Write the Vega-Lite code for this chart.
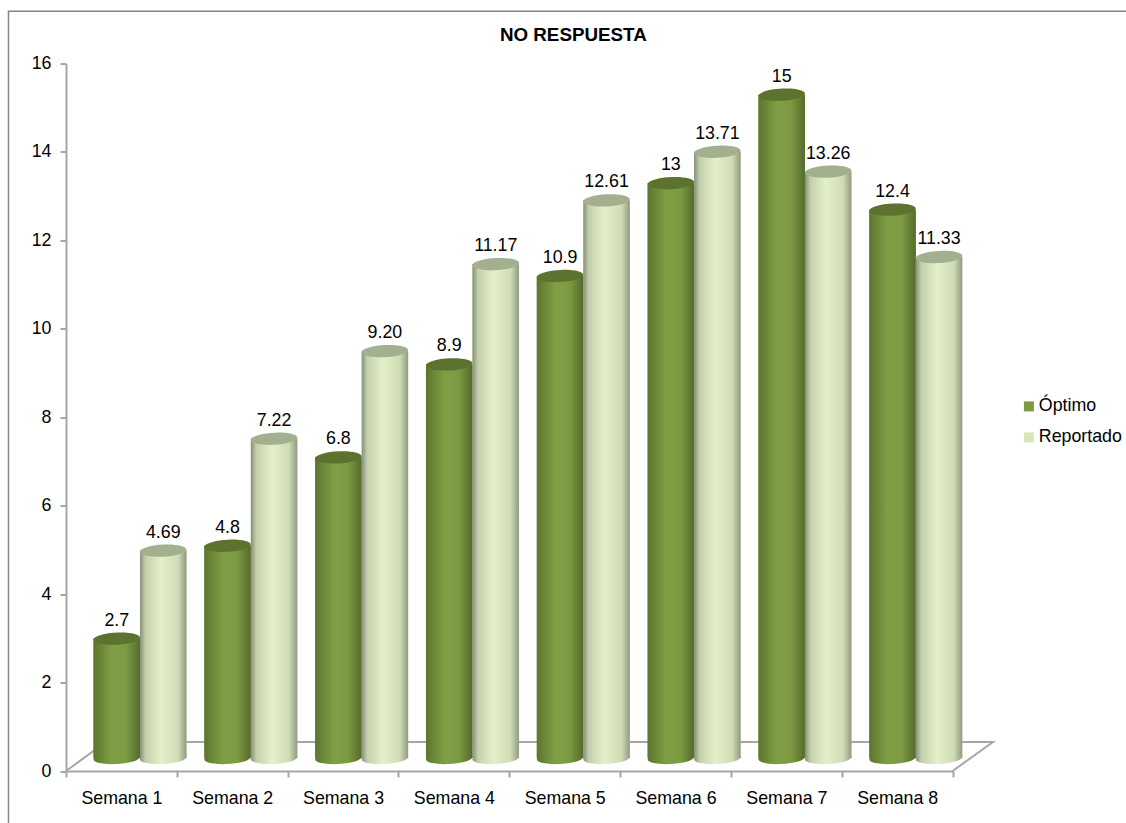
{
"$schema":"https://vega.github.io/schema/vega-lite/v6.json",
"width":886.6,"height":707.5,
"autosize":{"type":"none"},
"padding":{"left":66,"top":63.5,"right":173.4,"bottom":52},
"background":"white",
"config":{"view":{"stroke":null},"font":"Liberation Sans"},
"title":{"text":"NO RESPUESTA","font":"Liberation Sans","fontSize":18.8,"fontWeight":"bold","color":"#000000","anchor":"middle","dx":64,"offset":-36},
"datasets":{
"barras":[
{"semana":"Semana 1","serie":"Óptimo","valor":2.7},
{"semana":"Semana 2","serie":"Óptimo","valor":4.8},
{"semana":"Semana 3","serie":"Óptimo","valor":6.8},
{"semana":"Semana 4","serie":"Óptimo","valor":8.9},
{"semana":"Semana 5","serie":"Óptimo","valor":10.9},
{"semana":"Semana 6","serie":"Óptimo","valor":13},
{"semana":"Semana 7","serie":"Óptimo","valor":15},
{"semana":"Semana 8","serie":"Óptimo","valor":12.4},
{"semana":"Semana 1","serie":"Reportado","valor":4.69},
{"semana":"Semana 2","serie":"Reportado","valor":7.22},
{"semana":"Semana 3","serie":"Reportado","valor":9.2},
{"semana":"Semana 4","serie":"Reportado","valor":11.17},
{"semana":"Semana 5","serie":"Reportado","valor":12.61},
{"semana":"Semana 6","serie":"Reportado","valor":13.71},
{"semana":"Semana 7","serie":"Reportado","valor":13.26},
{"semana":"Semana 8","serie":"Reportado","valor":11.33}
],
"marco":[
{"px":-0.519,"py":-1.18,"n":1},
{"px":-0.519,"py":17.18,"n":2},
{"px":9.57,"py":17.18,"n":3}
],
"suelo":[
{"px":0,"py":0,"n":1},
{"px":0.36,"py":0.656,"n":2},
{"px":8.364,"py":0.656,"n":3},
{"px":8,"py":0,"n":4}
]
},
"resolve":{"scale":{"x":"independent"}},
"layer":[
{"data":{"name":"marco"},
 "mark":{"type":"line","stroke":"#868686","strokeWidth":1.5,"clip":false},
 "encoding":{
  "x":{"field":"px","type":"quantitative","scale":{"domain":[0,8],"nice":false,"zero":false},"axis":null},
  "y":{"field":"py","type":"quantitative","scale":{"domain":[0,16]}},
  "order":{"field":"n"}}},
{"data":{"name":"suelo"},
 "mark":{"type":"line","stroke":"#a6a6a6","strokeWidth":2,"clip":false},
 "encoding":{
  "x":{"field":"px","type":"quantitative","scale":{"domain":[0,8],"nice":false,"zero":false},"axis":null},
  "y":{"field":"py","type":"quantitative","scale":{"domain":[0,16]}},
  "order":{"field":"n"}}},
{"data":{"name":"barras"},
 "encoding":{
  "x":{"field":"semana","type":"nominal","sort":null,"scale":{"paddingInner":0,"paddingOuter":0},
   "axis":{"title":null,"tickBand":"extent","labelAngle":0,"labelFontSize":17.8,"labelColor":"#000000","labelFont":"Liberation Sans","domainColor":"#a6a6a6","domainWidth":2,"tickColor":"#a6a6a6","tickWidth":2,"tickSize":6,"labelPadding":12,"grid":false}},
  "xOffset":{"field":"serie","type":"nominal","scale":{"domain":["Óptimo","Reportado"],"range":[27.5,120.5],"paddingInner":0,"paddingOuter":0}},
  "y":{"field":"valor","type":"quantitative","stack":null,"scale":{"domain":[0,16]},
   "axis":{"title":null,"values":[0,2,4,6,8,10,12,14,16],"labelFontSize":17.8,"labelColor":"#000000","labelFont":"Liberation Sans","domainColor":"#a6a6a6","domainWidth":2,"tickColor":"#a6a6a6","tickWidth":2,"tickSize":6,"labelPadding":9,"grid":false}}
 },
 "layer":[
  {"mark":{"type":"bar","yOffset":-13,"y2Offset":-13},
   "encoding":{"y2":{"datum":0},"color":{"field":"serie","type":"nominal","scale":{"domain":["Óptimo","Reportado"],"range":["#7d9b41","#d8e4bc"]},
    "legend":{"title":null,"orient":"none","legendX":954,"legendY":334,"symbolType":"square","symbolSize":100,"symbolStrokeWidth":0,"labelFontSize":17.8,"labelColor":"#000000","labelFont":"Liberation Sans","labelOffset":1,"rowPadding":12}}}},
  {"transform":[{"filter":"datum.serie === 'Óptimo'"}],
   "mark":{"type":"point","filled":true,"opacity":1,"size":2162,"yOffset":-13,"shape":"M-1,0.04 A1,0.26,-3,0,0,1,-0.04 A1,0.26,-3,0,0,-1,0.04 Z",
    "fill":{"gradient":"linear","x1":0,"y1":0,"x2":1,"y2":0,"stops":[{"offset":0,"color":"#5c762e"},{"offset":0.4,"color":"#7f9f45"},{"offset":0.7,"color":"#7c9a42"},{"offset":1,"color":"#566b2c"}]}},
   "encoding":{"y":{"datum":0}}},
  {"transform":[{"filter":"datum.serie === 'Óptimo'"}],
   "mark":{"type":"bar","yOffset":-13,"y2Offset":-13,
    "fill":{"gradient":"linear","x1":0,"y1":0,"x2":1,"y2":0,"stops":[{"offset":0,"color":"#5c762e"},{"offset":0.4,"color":"#7f9f45"},{"offset":0.7,"color":"#7c9a42"},{"offset":1,"color":"#566b2c"}]}},
   "encoding":{"y2":{"datum":0}}},
  {"transform":[{"filter":"datum.serie === 'Óptimo'"}],
   "mark":{"type":"point","filled":true,"opacity":1,"size":2162,"yOffset":-13,"fill":"#5c7330","shape":"M-1,0.04 A1,0.26,-3,0,0,1,-0.04 A1,0.26,-3,0,0,-1,0.04 Z"}},
  {"transform":[{"filter":"datum.serie === 'Reportado'"}],
   "mark":{"type":"point","filled":true,"opacity":1,"size":2162,"yOffset":-13,"shape":"M-1,0.04 A1,0.26,-3,0,0,1,-0.04 A1,0.26,-3,0,0,-1,0.04 Z",
    "fill":{"gradient":"linear","x1":0,"y1":0,"x2":1,"y2":0,"stops":[{"offset":0,"color":"#858f78"},{"offset":0.12,"color":"#c4d0ac"},{"offset":0.45,"color":"#e4f0c8"},{"offset":0.82,"color":"#d0dcb6"},{"offset":1,"color":"#8f9a80"}]}},
   "encoding":{"y":{"datum":0}}},
  {"transform":[{"filter":"datum.serie === 'Reportado'"}],
   "mark":{"type":"bar","yOffset":-13,"y2Offset":-13,
    "fill":{"gradient":"linear","x1":0,"y1":0,"x2":1,"y2":0,"stops":[{"offset":0,"color":"#858f78"},{"offset":0.12,"color":"#c4d0ac"},{"offset":0.45,"color":"#e4f0c8"},{"offset":0.82,"color":"#d0dcb6"},{"offset":1,"color":"#8f9a80"}]}},
   "encoding":{"y2":{"datum":0}}},
  {"transform":[{"filter":"datum.serie === 'Reportado'"}],
   "mark":{"type":"point","filled":true,"opacity":1,"size":2162,"yOffset":-13,"fill":"#a3b08f","shape":"M-1,0.04 A1,0.26,-3,0,0,1,-0.04 A1,0.26,-3,0,0,-1,0.04 Z"}},
  {"transform":[{"filter":"datum.serie === 'Óptimo'"}],
   "mark":{"type":"text","yOffset":-31,"baseline":"middle","align":"center","fontSize":17.8,"color":"#000000"},
   "encoding":{"text":{"field":"valor","type":"quantitative","format":"~r"}}},
  {"transform":[{"filter":"datum.serie === 'Reportado'"}],
   "mark":{"type":"text","yOffset":-31,"baseline":"middle","align":"center","fontSize":17.8,"color":"#000000"},
   "encoding":{"text":{"field":"valor","type":"quantitative","format":".2f"}}}
 ]}
]
}
